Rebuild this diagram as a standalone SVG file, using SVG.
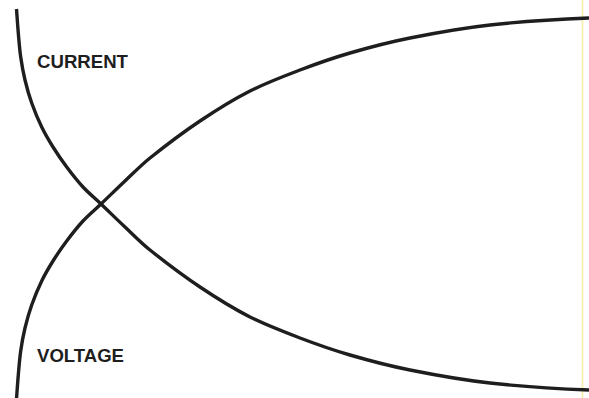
<svg xmlns="http://www.w3.org/2000/svg" width="589" height="398" viewBox="0 0 589 398">
<style>
.curve{fill:none;stroke:#1e1e1e;stroke-width:3.4;stroke-linecap:butt;stroke-linejoin:round}
.lbl{font-family:"Liberation Sans","DejaVu Sans",Arial,sans-serif;font-weight:bold;font-size:19px;fill:#1e1e1e}
</style>
<defs>
<path id="curve-shape" d="M16.5,9 C17.1,17 17.6,25.01 18.3,33 C19,41.01 19.57,49.04 20.7,57 C21.8,64.72 23.19,72.41 25,80 C26.86,87.77 29.02,95.47 31.7,103 C34.6,111.17 37.92,119.2 41.7,127 C45.04,133.89 48.94,140.5 53,147 C57.28,153.85 61.85,160.54 66.7,167 C71.86,173.88 77.15,180.69 83,187 C88.61,193.05 95.03,198.31 101,204 C109.02,211.64 116.92,219.42 125,227 C133.25,234.75 141.16,242.93 150,250 C166.19,262.95 182.78,275.46 200,287 C216.15,297.82 232.68,308.17 250,317 C266.11,325.21 283.1,331.58 300,338 C316.45,344.25 333.1,350.08 350,355 C369.8,360.76 389.78,365.96 410,370 C436.5,375.3 463.15,380 490,383 C522.87,386.67 555.95,388.68 589,390"/>
</defs>
<rect width="589" height="398" fill="#ffffff"/>
<line x1="582.5" y1="0" x2="582.5" y2="398" stroke="#f4efa6" stroke-width="1.6"/>
<g id="curves">
<use id="current" class="curve" href="#curve-shape"/>
<use id="voltage" class="curve" href="#curve-shape" transform="matrix(1 0 0 -1 0 408)"/>
</g>
<g id="label-current"><text class="lbl" x="37" y="68" textLength="91" lengthAdjust="spacingAndGlyphs">CURRENT</text></g>
<g id="label-voltage"><text class="lbl" x="37" y="362" textLength="87" lengthAdjust="spacingAndGlyphs">VOLTAGE</text></g>
</svg>
